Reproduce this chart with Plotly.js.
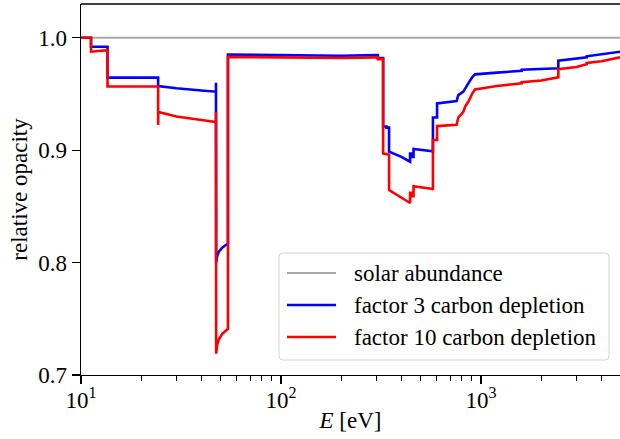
<!DOCTYPE html>
<html>
<head>
<meta charset="utf-8">
<script src="https://cdn.plot.ly/plotly-3.0.1.min.js"></script>
<style>
  html, body { margin: 0; padding: 0; background: #ffffff; }
  #chart { width: 620px; height: 439px; }
</style>
</head>
<body>
<div id="chart"></div>
<script>
// Photon energy grid (eV) and relative opacity for the solar-abundance reference
const solarE = [10, 5000];
const solarOpacity = [1.0, 1.0];

// Factor 3 carbon depletion
const depl3E = [
  10, 11.22, 11.22, 13.57, 13.57, 24.3, 24.3, 30, 40, 47.3, 47.3, 47.4,
  48, 49, 51, 54.3, 54.3, 100, 200, 300, 305, 305, 324, 324, 337, 337,
  347, 347, 400, 442, 442, 452, 452, 460, 460, 575, 575, 603, 603, 755,
  770, 816, 832, 864, 905, 933, 1200, 1598, 1598, 2000, 2436, 2436, 3000,
  3377, 3377, 4000, 4960
];
const depl3Opacity = [
  1.000, 1.000, 0.992, 0.992, 0.9645, 0.9645, 0.957, 0.955, 0.953, 0.952, 0.960, 0.800,
  0.806, 0.810, 0.8135, 0.817, 0.985, 0.9845, 0.984, 0.9845, 0.9845, 0.982, 0.982, 0.921, 0.921, 0.920,
  0.920, 0.8986, 0.894, 0.8897, 0.897, 0.897, 0.894, 0.894, 0.901, 0.899, 0.929, 0.929, 0.9416, 0.9437,
  0.949, 0.952, 0.955, 0.9594, 0.965, 0.9674, 0.969, 0.9705, 0.9715, 0.972, 0.9728, 0.9795, 0.981,
  0.9825, 0.9835, 0.985, 0.9875
];

// Factor 10 carbon depletion
const depl10E = [
  10, 11.22, 11.22, 13.57, 13.57, 24.3, 24.3, 24.35, 30, 40, 47.3, 47.3, 47.4,
  48, 49, 51, 54.3, 54.3, 100, 200, 300, 305, 305, 324, 324, 347, 347,
  400, 442, 442, 452, 452, 460, 460, 575, 575, 603, 603, 755, 770, 816,
  832, 864, 905, 933, 1200, 1598, 1598, 2000, 2436, 2436, 3000, 3377, 3377,
  4000, 4960
];
const depl10Opacity = [
  1.000, 1.000, 0.9876, 0.989, 0.9566, 0.9566, 0.9223, 0.934, 0.930, 0.927, 0.925, 0.934, 0.719,
  0.727, 0.732, 0.737, 0.741, 0.983, 0.9825, 0.982, 0.9825, 0.9825, 0.981, 0.981, 0.8971, 0.896, 0.8645,
  0.858, 0.853, 0.862, 0.862, 0.859, 0.859, 0.868, 0.8655, 0.909, 0.909, 0.9214, 0.9225, 0.929, 0.934,
  0.9386, 0.943, 0.9505, 0.954, 0.957, 0.9595, 0.9605, 0.962, 0.9648, 0.972, 0.974, 0.9765, 0.9775,
  0.979, 0.9826
];

// Series labels and colours
const seriesNames = ['solar abundance', 'factor 3 carbon depletion', 'factor 10 carbon depletion'];
const seriesColors = ['#a8a8a8', '#0000ff', '#ff0000'];

const serif = 'Liberation Serif, Times New Roman, serif';
const fs = 23;

// Plot-area geometry in pixels
const W = 620, H = 439;
const M = { l: 81, r: 0, t: 4, b: 64 };
const pw = W - M.l - M.r, ph = H - M.t - M.b;
const px = x => (x - M.l) / pw;          // pixel x -> paper x
const py = y => (H - M.b - y) / ph;      // pixel y -> paper y

const traces = [
  { x: solarE, y: solarOpacity, mode: 'lines', name: seriesNames[0],
    line: { color: seriesColors[0], width: 2.2 } },
  { x: depl3E, y: depl3Opacity, mode: 'lines', name: seriesNames[1],
    line: { color: seriesColors[1], width: 2.6 } },
  { x: depl10E, y: depl10Opacity, mode: 'lines', name: seriesNames[2],
    line: { color: seriesColors[2], width: 2.6 } }
];

// Legend box (rounded rectangle), line samples and labels
const box = { x0: 279, x1: 609, y0: 253, y1: 360, r: 4 };
const rx = box.r / pw, ry = box.r / ph;
const bx0 = px(box.x0), bx1 = px(box.x1), by0 = py(box.y1), by1 = py(box.y0);
const boxPath =
  `M ${bx0 + rx},${by0} L ${bx1 - rx},${by0} Q ${bx1},${by0} ${bx1},${by0 + ry} ` +
  `L ${bx1},${by1 - ry} Q ${bx1},${by1} ${bx1 - rx},${by1} ` +
  `L ${bx0 + rx},${by1} Q ${bx0},${by1} ${bx0},${by1 - ry} ` +
  `L ${bx0},${by0 + ry} Q ${bx0},${by0} ${bx0 + rx},${by0} Z`;

const entryY = [273, 305, 337];
const shapes = [
  { type: 'line', xref: 'paper', yref: 'paper', x0: 0, x1: 1, y0: 1, y1: 1,
    line: { color: '#000000', width: 1.3 } },
  { type: 'path', xref: 'paper', yref: 'paper', path: boxPath,
    fillcolor: 'rgba(255,255,255,0.8)', line: { color: '#d4d4d4', width: 1 } }
];
const annotations = [];
seriesNames.forEach((name, i) => {
  shapes.push({ type: 'line', xref: 'paper', yref: 'paper',
    x0: px(287), x1: px(336), y0: py(entryY[i]), y1: py(entryY[i]),
    line: { color: seriesColors[i], width: i === 0 ? 2.2 : 2.6 } });
  annotations.push({ xref: 'paper', yref: 'paper', x: px(352), y: py(entryY[i]),
    xanchor: 'left', yanchor: 'middle', showarrow: false, text: name,
    font: { family: serif, size: fs, color: '#000000' } });
});

const layout = {
  width: W, height: H,
  margin: M,
  paper_bgcolor: '#ffffff', plot_bgcolor: '#ffffff',
  font: { family: serif, size: fs, color: '#000000' },
  showlegend: false,
  xaxis: {
    type: 'log', range: [1, 1 + pw / 200],
    showline: true, linecolor: '#000000', linewidth: 1.3, mirror: false,
    showgrid: false, zeroline: false,
    ticks: 'outside', ticklen: 8, tickwidth: 1.3, tickcolor: '#000000',
    ticklabelstandoff: -4,
    tickvals: [10, 100, 1000],
    ticktext: ['10<sup>1</sup>', '10<sup>2</sup>', '10<sup>3</sup>'],
    tickfont: { family: serif, size: fs },
    minor: { ticks: 'outside', ticklen: 5, tickwidth: 1, tickcolor: '#000000',
             tickvals: [20, 30, 40, 50, 60, 70, 80, 90, 200, 300, 400, 500, 600, 700, 800, 900, 2000, 3000, 4000] },
    title: { text: '<i>E</i> [eV]', font: { family: serif, size: fs }, standoff: 0 },
    automargin: false
  },
  yaxis: {
    range: [0.7, 1.03],
    showline: true, linecolor: '#000000', linewidth: 1.3, mirror: false,
    showgrid: false, zeroline: false,
    ticks: 'outside', ticklen: 8, tickwidth: 1.3, tickcolor: '#000000',
    tickvals: [0.7, 0.8, 0.9, 1.0], tickformat: '.1f',
    tickfont: { family: serif, size: fs },
    title: { text: 'relative opacity', font: { family: serif, size: fs }, standoff: 4 },
    automargin: false
  },
  shapes: shapes,
  annotations: annotations
};

Plotly.newPlot('chart', traces, layout, { staticPlot: true, displayModeBar: false });
</script>
</body>
</html>
